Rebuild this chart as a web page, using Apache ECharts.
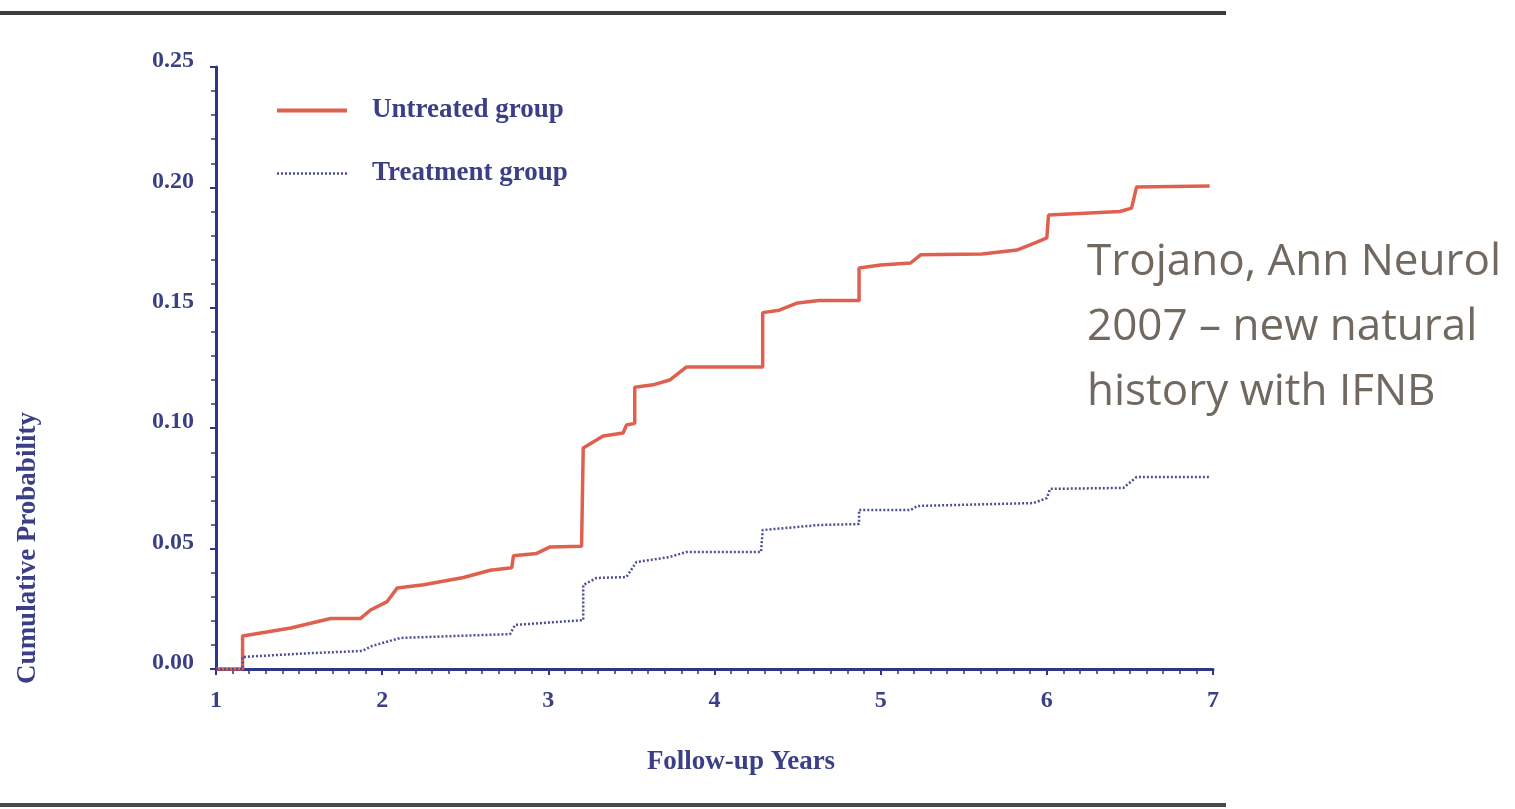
<!DOCTYPE html>
<html>
<head>
<meta charset="utf-8">
<script src="https://cdn.jsdelivr.net/npm/echarts@6/dist/echarts.min.js"></script>
<style>
html,body{margin:0;padding:0;background:#fff;}
#chart{width:1515px;height:809px;}
</style>
</head>
<body>
<div id="chart"></div>
<script>
// Data: [follow-up year, cumulative probability]
const untreatedX = [1.00,1.16,1.16,1.45,1.69,1.87,1.93,2.03,2.09,2.25,2.49,2.65,2.78,2.79,2.93,3.01,3.20,3.21,3.33,3.45,3.47,3.52,3.52,3.63,3.73,3.83,4.29,4.29,4.39,4.50,4.63,4.87,4.87,5.00,5.18,5.24,5.61,5.82,5.94,6.00,6.01,6.44,6.51,6.54,6.98];
const untreatedY = [0,0,0.0137,0.017,0.021,0.021,0.0245,0.028,0.0336,0.035,0.038,0.041,0.042,0.047,0.048,0.0507,0.051,0.0918,0.0968,0.098,0.1013,0.102,0.117,0.118,0.12,0.1254,0.1254,0.148,0.149,0.152,0.153,0.153,0.1665,0.1678,0.1686,0.172,0.1723,0.174,0.1773,0.179,0.1885,0.19,0.1914,0.2002,0.2006];
const treatmentX = [1.00,1.16,1.16,1.57,1.88,1.94,2.11,2.77,2.80,3.21,3.21,3.29,3.47,3.53,3.73,3.83,4.28,4.29,4.63,4.87,4.87,5.18,5.22,5.92,6.00,6.02,6.46,6.54,6.98];
const treatmentY = [0,0,0.005,0.0066,0.0075,0.0096,0.0129,0.0145,0.0183,0.0203,0.0349,0.0378,0.0382,0.0444,0.0465,0.0486,0.0486,0.0577,0.0598,0.0602,0.066,0.066,0.0677,0.0689,0.071,0.0748,0.0752,0.0797,0.0797];
const seriesNames = ['Untreated group','Treatment group'];
const xTicks = [1,2,3,4,5,6,7];
const yTicks = [0,0.05,0.10,0.15,0.20,0.25];
const xAxisTitle = 'Follow-up Years';
const yAxisTitle = 'Cumulative Probability';
const noteLines = ['Trojano, Ann Neurol','2007 – new natural','history with IFNB'];

const navy = '#2e3787';
const textNavy = '#3a3f86';
const serif = '"Liberation Serif","DejaVu Serif",serif';

const chart = echarts.init(document.getElementById('chart'));
chart.setOption({
  animation:false,
  backgroundColor:'#ffffff',
  grid:{left:216,right:302,top:67,bottom:140,containLabel:false},
  legend:{
    orient:'vertical', left:270, top:92, itemWidth:70, itemHeight:16, itemGap:36,
    itemStyle:{opacity:0},
    textStyle:{fontFamily:serif,fontWeight:'bold',fontSize:27,color:textNavy,padding:[0,0,0,20]},
    data:[
      {name:seriesNames[0],lineStyle:{width:4}},
      {name:seriesNames[1],lineStyle:{width:2.5}}
    ]
  },
  xAxis:{
    type:'value', min:xTicks[0], max:xTicks[xTicks.length-1], interval:1,
    axisLine:{lineStyle:{color:navy,width:3}},
    axisTick:{show:true,length:6,lineStyle:{color:navy,width:2}},
    minorTick:{show:true,splitNumber:10,length:5,lineStyle:{color:navy,width:1.5}},
    splitLine:{show:false},
    axisLabel:{fontFamily:serif,fontWeight:'bold',fontSize:24,color:textNavy,margin:20,
      formatter:v=>String(v)}
  },
  yAxis:{
    type:'value', min:yTicks[0], max:yTicks[yTicks.length-1], interval:0.05,
    axisLine:{show:true,lineStyle:{color:navy,width:3}},
    axisTick:{show:true,length:6,lineStyle:{color:navy,width:2}},
    minorTick:{show:true,splitNumber:5,length:5,lineStyle:{color:navy,width:1.5}},
    splitLine:{show:false},
    axisLabel:{fontFamily:serif,fontWeight:'bold',fontSize:24,color:textNavy,margin:22,
      verticalAlign:'bottom',lineHeight:12,
      formatter:v=>v.toFixed(2)}
  },
  series:[
    {name:seriesNames[0],type:'line',symbol:'none',
     data:untreatedX.map((x,i)=>[x,untreatedY[i]]),
     lineStyle:{color:'#e0604f',width:3.5},itemStyle:{color:'#e0604f'}},
    {name:seriesNames[1],type:'line',symbol:'none',
     data:treatmentX.map((x,i)=>[x,treatmentY[i]]),
     lineStyle:{color:'#4b4f93',width:2.5,type:[2,2]},itemStyle:{color:'#4b4f93'}}
  ],
  graphic:[
    {type:'rect',shape:{x:0,y:11,width:1226,height:4},style:{fill:'#3c3c3c'}},
    {type:'rect',shape:{x:0,y:803,width:1226,height:4},style:{fill:'#4a4a4a'}},
    {type:'text',x:741,y:762,style:{text:xAxisTitle,font:'bold 27px '+serif,fill:textNavy,textAlign:'center',textVerticalAlign:'middle'}},
    {type:'text',x:28,y:548,rotation:Math.PI/2,style:{text:yAxisTitle,font:'bold 27px '+serif,fill:textNavy,textAlign:'center',textVerticalAlign:'middle'}},
    {type:'text',left:1087,top:230,style:{text:noteLines.join('\n'),font:'44px "Open Sans","Noto Sans",sans-serif',lineHeight:65,fill:'#716960'}}
  ]
});
</script>
</body>
</html>
